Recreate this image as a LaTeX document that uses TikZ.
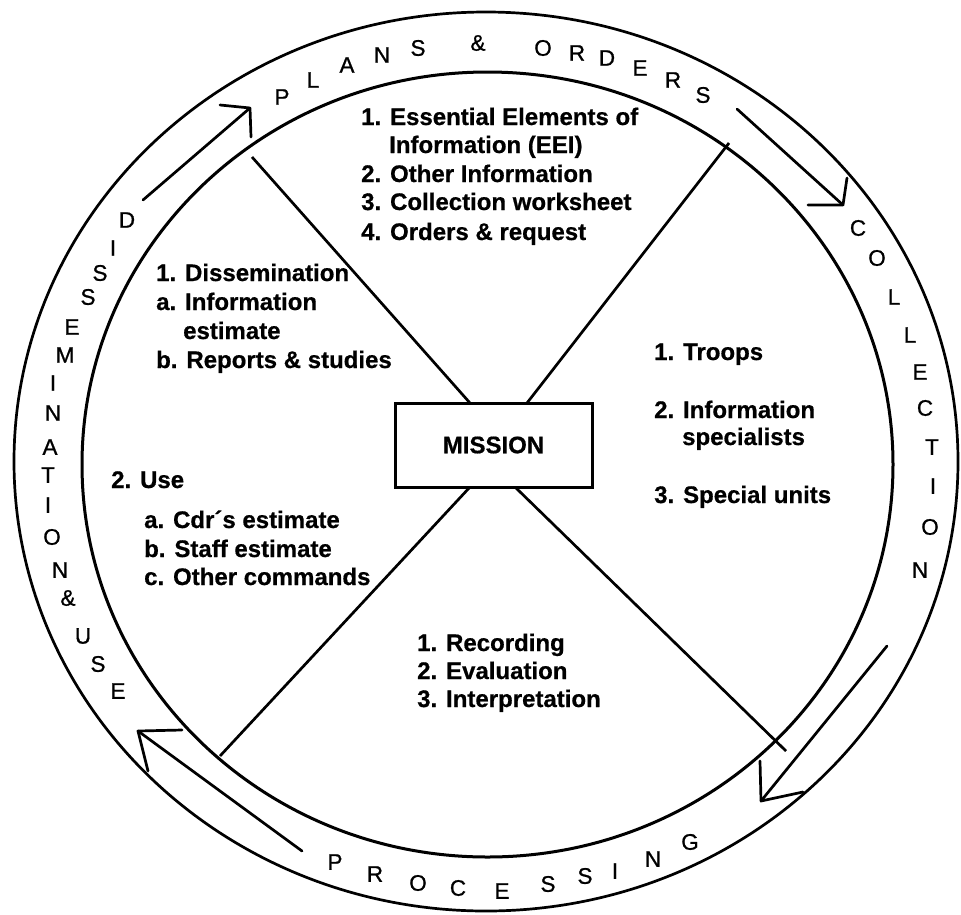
\documentclass[tikz,border=0pt]{standalone}
\usepackage{fontspec}
\setmainfont{Liberation Sans}
\newfontfamily\ringfont[FakeBold=0.9]{Liberation Sans}
\newfontfamily\bodyfont[FakeBold=0.6]{Liberation Sans Bold}
\begin{document}
\begin{tikzpicture}[x=1pt,y=-1pt,
  ring/.style={line width=2.7pt},
  cross/.style={line width=2.7pt},
  arr/.style={line width=2.7pt,line cap=round,line join=round},
  rl/.style={font=\ringfont\fontsize{22.5}{22.5}\selectfont,inner sep=0pt,anchor=center},
  tx/.style={font=\bodyfont\fontsize{24}{28}\selectfont,inner sep=0pt,anchor=base west},
  box/.style={draw,line width=3pt,minimum width=197pt,minimum height=84pt,inner sep=0pt,
    font=\bodyfont\fontsize{24}{28}\selectfont}]
\useasboundingbox (0,0) rectangle (961,914);
% rings
\draw[ring] (486,461.5) ellipse [x radius=472, y radius=449.5];
\draw[ring,line width=3pt] (487.5,464.5) ellipse [x radius=405.5, y radius=392.5];
% mission box
\node[box] (mission) at (493.5,445) {MISSION};
% cross lines
\coordinate (mtl) at (470,403);
\coordinate (mtr) at (527,403);
\coordinate (mbl) at (470,487);
\coordinate (mbr) at (515,487);
\coordinate (cul) at (252,157);
\coordinate (cur) at (729,143);
\coordinate (cll) at (220,756);
\coordinate (clr) at (786,751);
\draw[cross] (mtl) -- (cul);
\draw[cross] (mtr) -- (cur);
\draw[cross] (mbl) -- (cll);
\draw[cross] (mbr) -- (clr);
% arrows in ring
\coordinate (a1t) at (143,200); \coordinate (a1p) at (250,108);
\coordinate (a1h1) at (220,105); \coordinate (a1h2) at (251,137);
\draw[arr] (a1t) -- (a1p); \draw[arr] (a1h1) -- (a1p) -- (a1h2);
\coordinate (a2t) at (737,109); \coordinate (a2p) at (843,205);
\coordinate (a2h1) at (808,205); \coordinate (a2h2) at (847,178);
\draw[arr] (a2t) -- (a2p); \draw[arr] (a2h1) -- (a2p) -- (a2h2);
\coordinate (a3t) at (887,646); \coordinate (a3p) at (761,801);
\coordinate (a3h1) at (760,761); \coordinate (a3h2) at (803,792);
\draw[arr] (a3t) -- (a3p); \draw[arr] (a3h1) -- (a3p) -- (a3h2);
\coordinate (a4t) at (302,851); \coordinate (a4p) at (138,731);
\coordinate (a4h1) at (182,730); \coordinate (a4h2) at (148,771);
\draw[arr] (a4t) -- (a4p); \draw[arr] (a4h1) -- (a4p) -- (a4h2);
% PLANS & ORDERS
\node[rl] (p1) at (282,97) {P};
\node[rl] (p2) at (313,80) {L};
\node[rl] (p3) at (347,65) {A};
\node[rl] (p4) at (382,55) {N};
\node[rl] (p5) at (418,48) {S};
\node[rl] (p6) at (478,43) {\&};
\node[rl] (p7) at (543,48) {O};
\node[rl] (p8) at (577,53) {R};
\node[rl] (p9) at (607,58) {D};
\node[rl] (p10) at (640,68) {E};
\node[rl] (p11) at (673,80) {R};
\node[rl] (p12) at (703,95) {S};
% COLLECTION
\node[rl] (c1) at (858,228) {C};
\node[rl] (c2) at (877,258) {O};
\node[rl] (c3) at (894,297) {L};
\node[rl] (c4) at (910,335) {L};
\node[rl] (c5) at (920,372) {E};
\node[rl] (c6) at (925,408) {C};
\node[rl] (c7) at (932,447) {T};
\node[rl] (c8) at (933,486) {I};
\node[rl] (c9) at (930,527) {O};
\node[rl] (c10) at (920,570) {N};
% PROCESSING
\node[rl] (g1) at (335,862) {P};
\node[rl] (g2) at (375,874) {R};
\node[rl] (g3) at (418,883) {O};
\node[rl] (g4) at (458,888) {C};
\node[rl] (g5) at (502,891) {E};
\node[rl] (g6) at (548,884) {S};
\node[rl] (g7) at (585,876) {S};
\node[rl] (g8) at (615,871) {I};
\node[rl] (g9) at (653,859) {N};
\node[rl] (g10) at (690,842) {G};
% DISSEMINATION & USE
\node[rl] (d1) at (127,220) {D};
\node[rl] (d2) at (113,248) {I};
\node[rl] (d3) at (100,273) {S};
\node[rl] (d4) at (88,297) {S};
\node[rl] (d5) at (72,327) {E};
\node[rl] (d6) at (65,355) {M};
\node[rl] (d7) at (53,383) {I};
\node[rl] (d8) at (53,413) {N};
\node[rl] (d9) at (50,447) {A};
\node[rl] (d10) at (48,475) {T};
\node[rl] (d11) at (48,505) {I};
\node[rl] (d12) at (52,537) {O};
\node[rl] (d13) at (60,570) {N};
\node[rl] (d14) at (68,598) {\&};
\node[rl] (d15) at (83,636) {U};
\node[rl] (d16) at (98,664) {S};
\node[rl] (d17) at (118,691) {E};
% top block
\node[tx] (t1) at (361,125) {1. Essential Elements of};
\node[tx] (t2) at (389,153) {Information (EEI)};
\node[tx] (t3) at (361,182) {2. Other Information};
\node[tx] (t4) at (361,210) {3. Collection worksheet};
\node[tx] (t5) at (361,240) {4. Orders \& request};
% left top block
\node[tx] (l1) at (156,281) {1. Dissemination};
\node[tx] (l2) at (156,310) {a. Information};
\node[tx] (l3) at (183,339) {estimate};
\node[tx] (l4) at (156,368) {b. Reports \& studies};
% left middle block
\node[tx] (u1) at (111,488) {2. Use};
\node[tx] (u2) at (144,528) {a. Cdr´s estimate};
\node[tx] (u3) at (144,557) {b. Staff estimate};
\node[tx] (u4) at (144,585) {c. Other commands};
% right block
\node[tx] (r1) at (654,360) {1. Troops};
\node[tx] (r2) at (654,418) {2. Information};
\node[tx] (r3) at (682,445) {specialists};
\node[tx] (r4) at (654,503) {3. Special units};
% bottom block
\node[tx] (b1) at (417,651) {1. Recording};
\node[tx] (b2) at (417,679) {2. Evaluation};
\node[tx] (b3) at (417,707) {3. Interpretation};
\end{tikzpicture}
\end{document}
